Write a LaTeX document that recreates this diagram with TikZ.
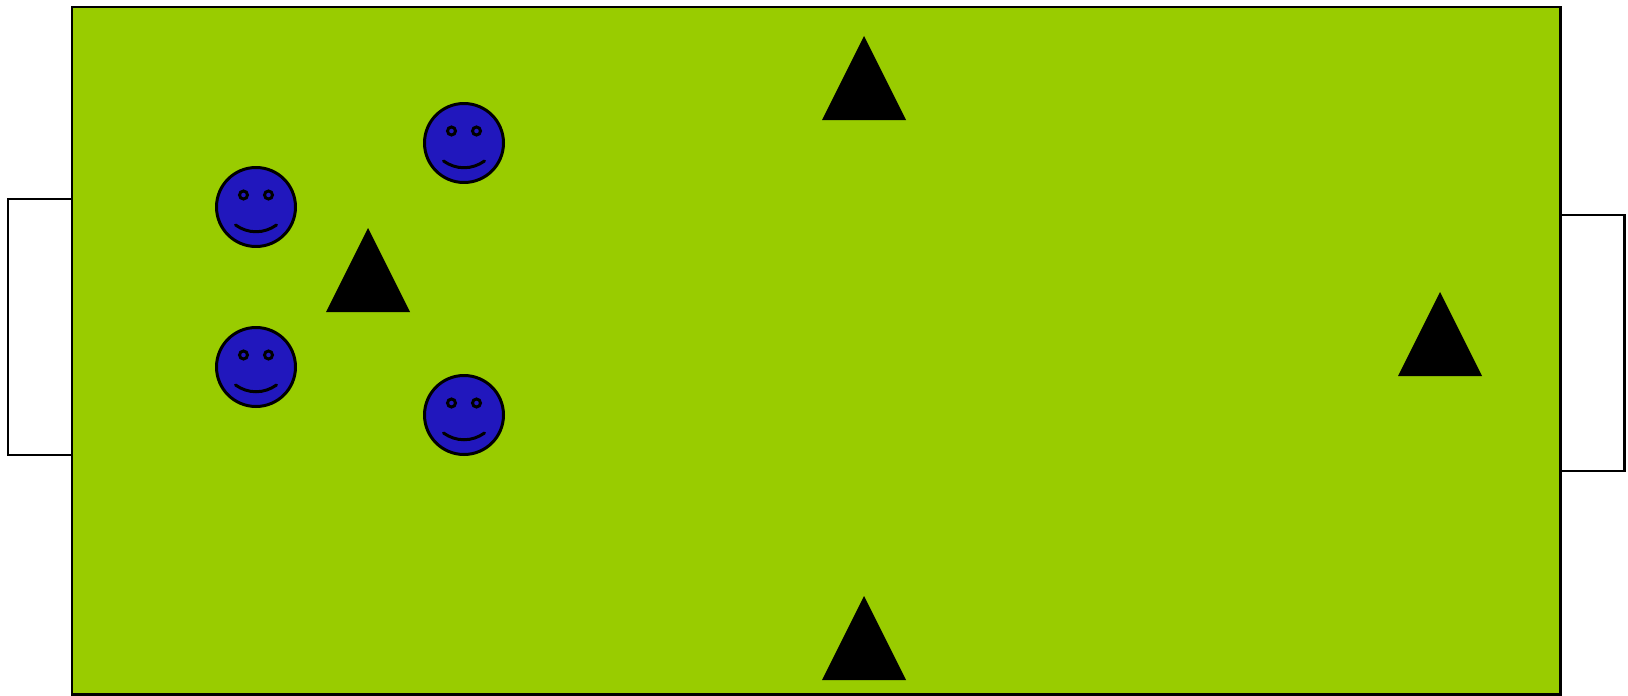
\documentclass[tikz,border=0pt]{standalone}
\usepackage{xcolor}
\definecolor{pitchgreen}{HTML}{99CC00}
\definecolor{faceblue}{HTML}{2117BD}
\tikzset{
  outline/.style={draw=black, line width=0.85pt},
  cone/.pic={\fill[black] (0,0) -- (-0.42,-0.84) -- (0.42,-0.84) -- cycle;},
  smiley/.pic={
    \draw[outline, fill=faceblue] (0,0) circle (0.395);
    \draw[outline] (-0.125,0.12) circle (0.04);
    \draw[outline] (0.125,0.12) circle (0.04);
    \draw[outline, line cap=round] (-0.205,-0.18) .. controls (-0.08,-0.27) and (0.08,-0.27) .. (0.205,-0.18);
  }
}

\begin{document}
\begin{tikzpicture}
\def\xleft{0.72}
\def\xright{15.60}
\def\ybot{0.01}
\def\ytop{6.88}

\useasboundingbox (0,0) rectangle (16.28,6.95);

\draw[outline, fill=white] (0.08,2.40) rectangle (\xleft,4.96);
\draw[outline, fill=white] (\xright,2.24) rectangle (16.24,4.80);
\draw[outline, fill=pitchgreen] (\xleft,\ybot) rectangle (\xright,\ytop);

\foreach \px/\py in {2.56/4.88, 2.56/3.28, 4.64/5.52, 4.64/2.80}
  \pic at (\px,\py) {smiley};

\foreach \px/\py in {8.64/6.59, 8.64/0.99, 3.68/4.67, 14.40/4.03}
  \pic at (\px,\py) {cone};
\end{tikzpicture}
\end{document}
